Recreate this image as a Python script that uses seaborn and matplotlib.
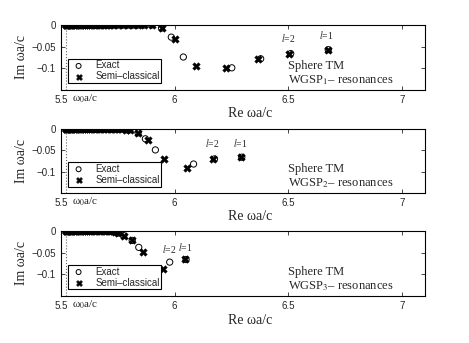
import numpy as np
import pandas as pd
import seaborn as sns
import matplotlib.pyplot as plt

# WGSP resonances of a TM sphere: exact vs semi-classical (Re, Im of omega a/c)
omega0 = 5.52

# points that sit on the real axis (both methods coincide there)
flat1_x = [5.52, 5.522, 5.525, 5.528, 5.532, 5.536, 5.54, 5.545, 5.55, 5.556, 5.562, 5.568,
           5.575, 5.582, 5.59, 5.598, 5.606, 5.615, 5.624, 5.634, 5.644, 5.655, 5.666, 5.678,
           5.69, 5.703, 5.716, 5.729, 5.751, 5.773, 5.795, 5.817, 5.839, 5.865, 5.898]
flat1_y = [0, 0, 0, 0, 0, 0, 0, 0, 0, 0, 0, 0, 0, 0, 0, 0, 0, 0, 0, 0, 0, 0, 0, 0,
           0, 0, 0, 0, 0, 0, 0, 0, 0, 0, 0]
semi1_x = [5.942, 6.003, 6.095, 6.227, 6.365, 6.504, 6.672]
semi1_y = [-0.007, -0.032, -0.094, -0.100, -0.078, -0.066, -0.057]
exact1_x = [5.942, 5.985, 6.038, 6.251, 6.378, 6.51, 6.675]
exact1_y = [-0.007, -0.028, -0.074, -0.099, -0.078, -0.066, -0.057]

flat2_x = [5.52, 5.522, 5.525, 5.528, 5.532, 5.536, 5.54, 5.545, 5.55, 5.556, 5.562, 5.568,
           5.575, 5.582, 5.59, 5.598, 5.606, 5.615, 5.624, 5.634, 5.644, 5.655, 5.666, 5.678,
           5.69, 5.702, 5.714, 5.726, 5.737, 5.752, 5.766, 5.788, 5.803]
flat2_y = [0, 0, 0, 0, 0, 0, 0, 0, 0, 0, 0, 0, 0, 0, 0, 0, 0, 0, 0, 0, 0, 0, 0, 0,
           0, 0, 0, 0, 0, 0, 0, -0.002, -0.002]
semi2_x = [5.839, 5.884, 5.952, 6.056, 6.168, 6.292]
semi2_y = [-0.009, -0.025, -0.070, -0.091, -0.070, -0.066]
exact2_x = [5.839, 5.871, 5.915, 6.083, 6.175, 6.295]
exact2_y = [-0.009, -0.023, -0.049, -0.082, -0.070, -0.066]

flat3_x = [5.52, 5.522, 5.525, 5.528, 5.532, 5.536, 5.54, 5.545, 5.55, 5.556, 5.562, 5.568,
           5.575, 5.582, 5.59, 5.598, 5.606, 5.615, 5.624, 5.634, 5.644, 5.655, 5.666, 5.678,
           5.69, 5.70, 5.71, 5.72, 5.73, 5.738]
flat3_y = [0, 0, 0, 0, 0, 0, 0, 0, 0, 0, 0, 0, 0, 0, 0, 0, 0, 0, 0, 0, 0, 0, 0, 0,
           0, 0, 0, 0, -0.001, -0.002]
semi3_x = [5.752, 5.776, 5.813, 5.861, 5.949, 6.044]
semi3_y = [-0.005, -0.011, -0.022, -0.049, -0.088, -0.065]
exact3_x = [5.752, 5.776, 5.813, 5.842, 5.978, 6.05]
exact3_y = [-0.005, -0.011, -0.022, -0.038, -0.072, -0.066]

panels = [
    (flat1_x, flat1_y, semi1_x, semi1_y, exact1_x, exact1_y, "1",
     [(6.50, -0.045, "2"), (6.665, -0.038, "1")]),
    (flat2_x, flat2_y, semi2_x, semi2_y, exact2_x, exact2_y, "2",
     [(6.165, -0.047, "2"), (6.29, -0.047, "1")]),
    (flat3_x, flat3_y, semi3_x, semi3_y, exact3_x, exact3_y, "3",
     [(5.975, -0.055, "2"), (6.045, -0.05, "1")]),
]

sns.set_style("ticks")
plt.rcParams['font.family'] = ['Liberation Serif', 'DejaVu Serif']
plt.rcParams['mathtext.fontset'] = 'stix'
plt.rcParams['xtick.direction'] = 'in'
plt.rcParams['ytick.direction'] = 'in'

fig = plt.figure(figsize=(4.69, 3.43), dpi=100)
boxes = [[0.130, 0.738, 0.776, 0.189],
         [0.130, 0.437, 0.776, 0.187],
         [0.130, 0.137, 0.776, 0.190]]
sans = 'Liberation Sans'

for box, (fx, fy, sx, sy, ex, ey, idx, labs) in zip(boxes, panels):
    ax = fig.add_axes(box)
    ex_all = pd.DataFrame({'re': fx + ex, 'im': fy + ey})
    se_all = pd.DataFrame({'re': fx + sx, 'im': fy + sy})
    sns.scatterplot(data=ex_all, x='re', y='im', ax=ax, marker='o', s=20,
                    facecolors='none', edgecolor='black', linewidth=0.7,
                    label='Exact', zorder=3)
    sns.scatterplot(data=se_all, x='re', y='im', ax=ax, marker='X', s=30,
                    color='black', edgecolor='black', linewidth=0.3,
                    label='Semi\u2013classical', zorder=4)
    ax.axvline(omega0, color='0.4', linestyle=':', linewidth=0.8, zorder=1)
    ax.set_xlim(5.5, 7.1)
    ax.set_ylim(-0.15, 0)
    ax.set_xticks([5.5, 6, 6.5, 7])
    ax.set_xticklabels(['5.5', '6', '6.5', '7'])
    ax.set_yticks([-0.1, -0.05, 0])
    ax.set_yticklabels(['\u22120.1', '\u22120.05', '0'])
    ax.tick_params(top=True, right=True, labelsize=7, length=3, width=0.6)
    for t in ax.get_xticklabels() + ax.get_yticklabels():
        t.set_family(sans)
    for sp in ax.spines.values():
        sp.set_linewidth(0.8)
        sp.set_color('black')
    ax.set_xlabel('Re \u03c9a/c', fontsize=10)
    ax.xaxis.set_label_coords(0.52, -0.27)
    ax.set_ylabel('Im \u03c9a/c', fontsize=10)
    ax.yaxis.set_label_coords(-0.09, 0.5)
    ax.text(0.03, -0.13, '\u03c9$_0$a/c', transform=ax.transAxes,
            fontsize=8, va='center', ha='left')
    ax.text(0.624, 0.37, 'Sphere TM', transform=ax.transAxes, fontsize=9, va='center')
    ax.text(0.624, 0.15, 'WGSP$_' + idx + '$\u2013 resonances', transform=ax.transAxes,
            fontsize=9, va='center')
    for lx, ly, ln in labs:
        ax.text(lx, ly, '$l$=' + ln, fontsize=7, ha='center', va='bottom')
    leg = ax.legend(loc='lower left', bbox_to_anchor=(0.019, 0.1), fancybox=False,
                    framealpha=1, edgecolor='black', prop={'family': sans, 'size': 7},
                    borderpad=0.2, labelspacing=0.1, handletextpad=0.8,
                    handlelength=1.8, markerscale=0.8, borderaxespad=0)
    leg.get_frame().set_linewidth(0.8)

fig.savefig('out.png', dpi=100)
